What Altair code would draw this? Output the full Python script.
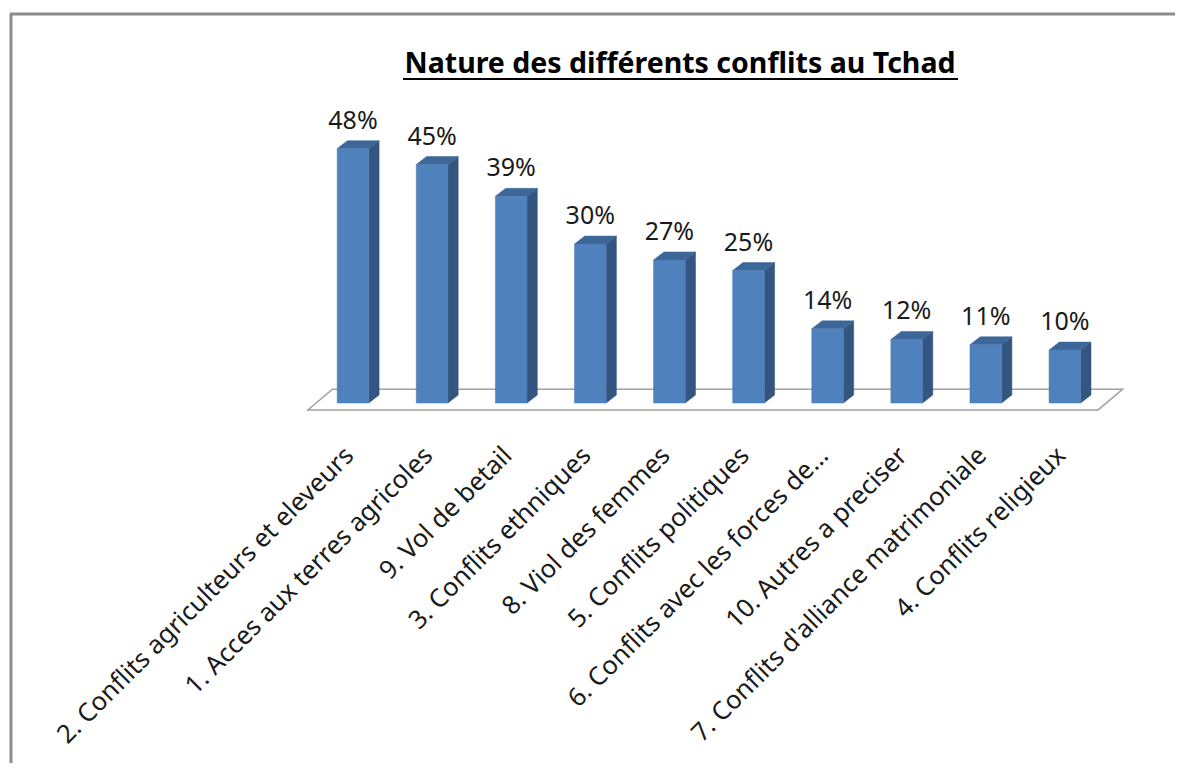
import altair as alt
import pandas as pd

# ---- data ----
categories = [
    "2. Conflits agriculteurs et eleveurs",
    "1. Acces aux terres agricoles",
    "9. Vol de betail",
    "3. Conflits ethniques",
    "8. Viol des femmes",
    "5. Conflits politiques",
    "6. Conflits avec les forces de…",
    "10. Autres a preciser",
    "7. Conflits d'alliance matrimoniale",
    "4. Conflits religieux",
]
values = [48, 45, 39, 30, 27, 25, 14, 12, 11, 10]
title_text = "Nature des différents conflits au Tchad"

# ---- style / geometry (in scale units) ----
W, H = 1167, 755
HALF = 0.2        # half width of bar front
DEPTH_X = 0.13    # 3D depth offset (x units)
DEPTH_Y = 1.5     # 3D depth offset (% units)
FLOOR_FRONT = -1.3
FLOOR_BACK = 2.6
FLOOR_LEFT = -0.57
FLOOR_RIGHT_PAD = 0.42
FLOOR_SKEW = 0.31
FONT = "Noto Sans"

n = len(categories)
xscale = alt.Scale(domain=[-4.3616, 10.392], nice=False, zero=False)
yscale = alt.Scale(domain=[-67.92, 74.53], nice=False, zero=False)

front = pd.DataFrame({
    "cat": categories,
    "x0": [i - HALF for i in range(n)],
    "x1": [i + HALF for i in range(n)],
    "y0": [0] * n,
    "y1": values,
    "xc": list(range(n)),
    "label": [f"{v}%" for v in values],
})

side_rows, top_rows = [], []
for i, (c, v) in enumerate(zip(categories, values)):
    x0, x1 = i - HALF, i + HALF
    side_rows += [
        {"cat": c, "x": x1, "y": 0, "y2": v},
        {"cat": c, "x": x1 + DEPTH_X, "y": DEPTH_Y, "y2": v + DEPTH_Y},
    ]
    top_rows += [
        {"cat": c, "x": x0, "y": v, "y2": v},
        {"cat": c, "x": x0 + DEPTH_X, "y": v, "y2": v + DEPTH_Y},
        {"cat": c, "x": x1, "y": v, "y2": v + DEPTH_Y},
        {"cat": c, "x": x1 + DEPTH_X, "y": v + DEPTH_Y, "y2": v + DEPTH_Y},
    ]
side = pd.DataFrame(side_rows)
top = pd.DataFrame(top_rows)

fl, fr = FLOOR_LEFT, (n - 1) + FLOOR_RIGHT_PAD
floor = pd.DataFrame([
    {"x": fl, "y": FLOOR_FRONT, "y2": FLOOR_FRONT},
    {"x": fl + FLOOR_SKEW, "y": FLOOR_FRONT, "y2": FLOOR_BACK},
    {"x": fr, "y": FLOOR_FRONT, "y2": FLOOR_BACK},
    {"x": fr + FLOOR_SKEW, "y": FLOOR_BACK, "y2": FLOOR_BACK},
])

floor_layer = alt.Chart(floor).mark_area(
    fill="white", stroke="#a0a0a0", strokeWidth=1.5, interpolate="linear"
).encode(
    x=alt.X("x:Q", scale=xscale, axis=None),
    y=alt.Y("y:Q", scale=yscale, axis=None),
    y2="y2:Q",
)

front_layer = alt.Chart(front).mark_rect(color="#4f81bd", stroke="#4a7ab3", strokeWidth=0.5).encode(
    x=alt.X("x0:Q", scale=xscale, axis=None),
    x2="x1:Q",
    y=alt.Y("y0:Q", scale=yscale, axis=None),
    y2="y1:Q",
)

side_layer = alt.Chart(side).mark_area(color="#34557f", stroke="#34557f", strokeWidth=0.5).encode(
    x=alt.X("x:Q", scale=xscale, axis=None),
    y=alt.Y("y:Q", scale=yscale, axis=None),
    y2="y2:Q",
    detail="cat:N",
)

top_layer = alt.Chart(top).mark_area(color="#3d6699", stroke="#3d6699", strokeWidth=0.5).encode(
    x=alt.X("x:Q", scale=xscale, axis=None),
    y=alt.Y("y:Q", scale=yscale, axis=None),
    y2="y2:Q",
    detail="cat:N",
)

value_labels = alt.Chart(front).mark_text(
    font=FONT, fontSize=25, color="#1a1a1a", baseline="alphabetic", align="center", dy=-20
).encode(
    x=alt.X("xc:Q", scale=xscale, axis=None),
    y=alt.Y("y1:Q", scale=yscale, axis=None),
    text="label:N",
)

cat_labels = alt.Chart(front).mark_text(
    font=FONT, fontSize=25.5, color="#1a1a1a", baseline="middle", align="right",
    angle=315, dx=-5
).encode(
    x=alt.X("xc:Q", scale=xscale, axis=None),
    y=alt.value(440),
    text="cat:N",
)

title_df = pd.DataFrame({"t": [title_text]})
title_layer = alt.Chart(title_df).mark_text(
    font=FONT, fontSize=28.5, fontWeight="bold", color="#000000", align="center", baseline="alphabetic"
).encode(x=alt.value(672), y=alt.value(65), text="t:N")

underline = alt.Chart(title_df).mark_rule(color="#000000", strokeWidth=2).encode(
    x=alt.value(395), x2=alt.value(950), y=alt.value(71)
)

border_left = alt.Chart(title_df).mark_rule(color="#8c8c8c", strokeWidth=3).encode(
    x=alt.value(3), y=alt.value(6), y2=alt.value(H + 20)
)
border_top = alt.Chart(title_df).mark_rule(color="#8c8c8c", strokeWidth=3).encode(
    x=alt.value(2), x2=alt.value(W + 20), y=alt.value(6)
)

chart = alt.layer(
    border_left, border_top, floor_layer, side_layer, top_layer, front_layer,
    value_labels, cat_labels, title_layer, underline,
).properties(
    width=W, height=H, padding=0,
    autosize=alt.AutoSizeParams(type="none"),
    background="white",
).configure_view(stroke=None)

chart.save("out.html", embed_options={"renderer": "svg", "actions": False})
